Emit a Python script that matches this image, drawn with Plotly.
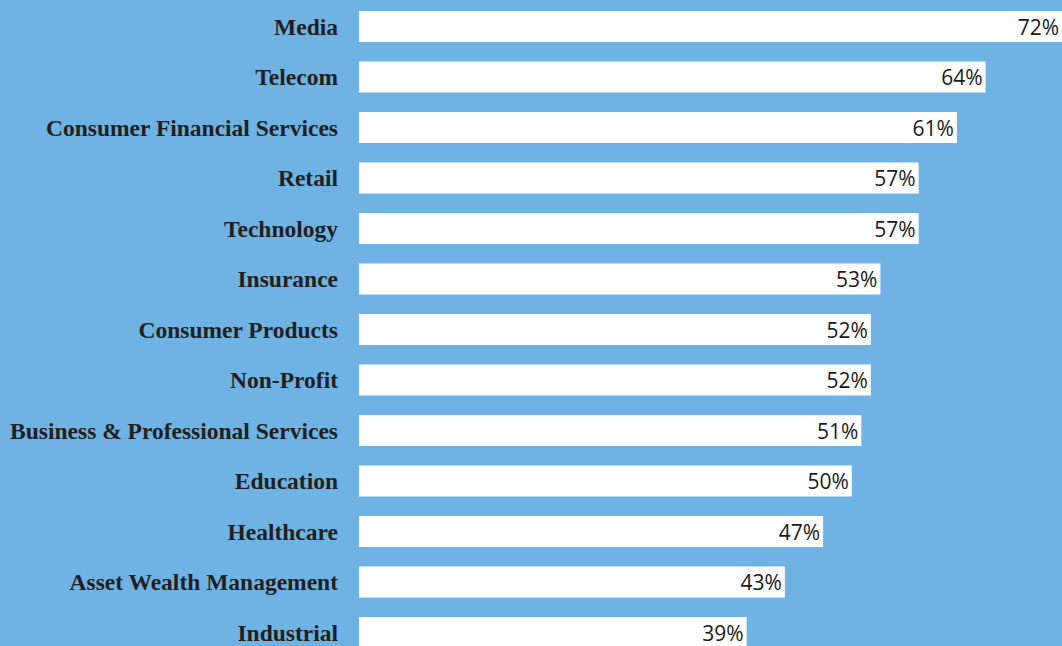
import plotly.graph_objects as go

categories = ["Media", "Telecom", "Consumer Financial Services", "Retail", "Technology",
              "Insurance", "Consumer Products", "Non-Profit", "Business & Professional Services",
              "Education", "Healthcare", "Asset Wealth Management", "Industrial"]
values = [72, 64, 61, 57, 57, 53, 52, 52, 51, 50, 47, 43, 39]
labels = [f"{v}%" for v in values]

BASE = -1.57  # bars start slightly left of zero on the value axis
BG = "#6eb3e3"

fig = go.Figure(go.Bar(
    y=categories,
    x=[v - BASE for v in values],
    base=BASE,
    orientation="h",
    width=0.615,
    marker=dict(color="#ffffff", line=dict(width=0)),
    text=labels,
    textposition="inside",
    insidetextanchor="end",
    textangle=0,
    constraintext="none",
    insidetextfont=dict(family="Open Sans", size=21, color="#1a1a1a"),
    hoverinfo="skip",
))

fig.update_layout(
    width=1062, height=646,
    margin=dict(l=359, r=0, t=0, b=0),
    paper_bgcolor=BG, plot_bgcolor=BG,
    showlegend=False,
    xaxis=dict(range=[BASE, 72], visible=False, showgrid=False, zeroline=False),
    yaxis=dict(
        type="category",
        categoryorder="array", categoryarray=categories,
        range=[12.267, -0.525],
        showgrid=False, zeroline=False, showline=False,
        ticks="", ticklabelstandoff=20,
        tickfont=dict(family="Liberation Serif", size=23.5, color="#231f20", weight="bold"),
    ),
)

fig.write_html(
    "out.html",
    config={"displayModeBar": False},
    post_script="document.body.style.margin='0';document.body.style.overflow='hidden';",
)
